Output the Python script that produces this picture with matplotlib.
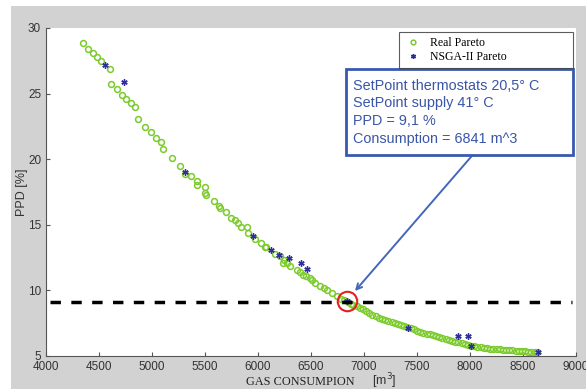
import numpy as np
import matplotlib
matplotlib.use('Agg')
import matplotlib.pyplot as plt
from matplotlib.patches import Rectangle

# Real Pareto (green open circles)
real_x = [4346, 4399, 4440, 4478, 4516, 4604, 4616, 4666, 4714, 4758, 4802, 4840,
          4865, 4931, 4993, 5041, 5088, 5104, 5189, 5261, 5314, 5371, 5421, 5421,
          5497, 5503, 5509, 5581, 5632, 5640, 5698, 5742, 5786, 5814, 5840, 5899,
          5905, 5971, 6031, 6066, 6080, 6160, 6208, 6245, 6239, 6270, 6302, 6365,
          6396, 6427, 6450, 6490, 6506, 6537, 6585, 6620, 6648, 6695, 6742, 6780,
          6810, 6850, 6877,
          6900, 6930, 6960, 6990, 7020, 7050, 7080, 7110, 7140, 7170, 7200, 7230,
          7260, 7290, 7320, 7350, 7380, 7410, 7440, 7470, 7500, 7530, 7560, 7590,
          7620, 7650, 7680, 7710, 7740, 7770, 7800, 7830, 7860, 7890, 7920, 7950,
          7980, 8010, 8040, 8070, 8100, 8130, 8160, 8190, 8220, 8250, 8280, 8310,
          8340, 8370, 8400, 8430, 8460, 8490, 8520, 8550, 8580, 8610, 8630]
real_y = [28.83, 28.4, 28.07, 27.77, 27.5, 26.85, 25.76, 25.33, 24.92, 24.57, 24.31, 24.0,
          23.06, 22.48, 22.05, 21.64, 21.33, 20.78, 20.07, 19.5, 18.9, 18.7, 18.34, 18.0,
          17.86, 17.45, 17.3, 16.79, 16.41, 16.3, 15.98, 15.52, 15.37, 15.12, 14.86, 14.81,
          14.35, 13.9, 13.59, 13.33, 13.28, 12.75, 12.62, 12.32, 12.11, 12.06, 11.86, 11.55,
          11.43, 11.17, 11.1, 10.92, 10.79, 10.59, 10.34, 10.2, 10.03, 9.83, 9.57, 9.32,
          9.25, 9.12, 9.0,
          8.92, 8.8, 8.68, 8.55, 8.4, 8.27, 8.14, 8.03, 7.93, 7.84, 7.76, 7.67,
          7.58, 7.5, 7.42, 7.34, 7.26, 7.18, 7.1, 7.02, 6.94, 6.86, 6.78, 6.71,
          6.64, 6.57, 6.5, 6.43, 6.36, 6.29, 6.22, 6.15, 6.09, 6.03, 5.98, 5.93,
          5.87, 5.8, 5.74, 5.69, 5.65, 5.62, 5.59, 5.57, 5.55, 5.53, 5.51, 5.49,
          5.47, 5.45, 5.43, 5.41, 5.39, 5.37, 5.35, 5.33, 5.31, 5.3, 5.28]

# NSGA-II Pareto (blue asterisks)
nsga_x = [4559, 4736, 5314, 5956, 6122, 6200, 6289, 6405, 6466, 6837, 7418, 7883, 7984, 8009, 8644]
nsga_y = [27.16, 25.88, 19.05, 14.15, 13.08, 12.70, 12.45, 12.06, 11.6, 9.2, 7.16, 6.55, 6.55, 5.78, 5.33]

ppd_limit = 9.1
chosen = (6841, 9.19)
note = "SetPoint thermostats 20,5\u00b0 C\nSetPoint supply 41\u00b0 C\nPPD = 9,1 %\nConsumption = 6841 m^3"

fig = plt.figure(figsize=(5.86, 3.89), dpi=100, facecolor='white')
fig.patches.append(Rectangle((11/586, 0), 1, 1 - 6/389, transform=fig.transFigure,
                             facecolor='#d2d2d2', edgecolor='none', zorder=-10))
ax = fig.add_axes([46/586, 1 - 356/389, 530/586, 328/389])
ax.set_facecolor('white')

ax.plot(real_x, real_y, 'o', mfc='none', mec='#7ccb2c', ms=4.2, mew=1.1,
        ls='none', label='Real Pareto')
ax.plot(nsga_x, nsga_y, marker=(6, 2, 0), color='#2e2e9a', ms=4.5, mew=1.0, ls='none',
        label='NSGA-II Pareto')

ax.plot([4040, 8960], [ppd_limit, ppd_limit], color='black', lw=2.5,
        dashes=(3, 3))
ax.plot(chosen[0], chosen[1], 'o', mfc='none', mec='#e52020', ms=14, mew=1.5)

ax.set_xlim(4000, 9000)
ax.set_ylim(5, 30)
ax.set_xticks(np.arange(4000, 9001, 500))
ax.set_yticks([5, 10, 15, 20, 25, 30])
for s in ['top', 'right']:
    ax.spines[s].set_visible(False)
for s in ['left', 'bottom']:
    ax.spines[s].set_color('#555555')
ax.tick_params(direction='in', length=3, colors='#555555', labelcolor='#333333',
               labelsize=8.5)
for t in ax.get_xticklabels() + ax.get_yticklabels():
    t.set_fontfamily('Liberation Sans')

fig.text(22/586, 1 - 192/389, 'PPD [%]', rotation=90, ha='center', va='center',
         fontsize=9, family='Liberation Sans', color='#333333')
fig.text(246/586, 1 - 382/389, 'GAS CONSUMPION', ha='left', va='center',
         fontsize=8.8, family='Liberation Serif', color='#222222')
fig.text(372/586, 1 - 381/389, '[m$^3$]', ha='left', va='center',
         fontsize=9, family='Liberation Sans', color='#333333')

leg = ax.legend(loc='upper left', bbox_to_anchor=(0.666, 0.881, 0.328, 0.107),
                mode='expand', prop={'family': 'Liberation Serif', 'size': 8.5},
                frameon=True, fancybox=False, edgecolor='#333333', markerscale=0.8,
                borderpad=0.4, handletextpad=0.6, handlelength=1.6,
                labelspacing=0.2, borderaxespad=0)
leg.get_frame().set_linewidth(0.8)

# annotation box
ax.add_patch(Rectangle((0.566, 0.613), 0.428, 0.262, transform=ax.transAxes,
                       facecolor='white', edgecolor='#3a58b0', lw=2, zorder=5))
ax.text(0.579, 0.845, note, transform=ax.transAxes, ha='left', va='top',
        fontsize=10.4, family='Liberation Sans', color='#3a56a8', linespacing=1.33,
        zorder=6)
ax.annotate('', xy=(6915, 9.95), xytext=(8025, 20.32),
            arrowprops=dict(arrowstyle='->', color='#4466bb', lw=1.4,
                            shrinkA=0, shrinkB=0))

fig.savefig('out.png', dpi=100, facecolor=fig.get_facecolor())
